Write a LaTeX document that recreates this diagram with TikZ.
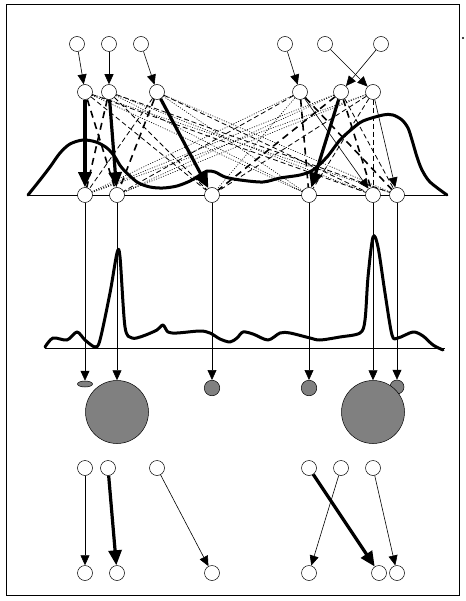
\documentclass[tikz,border=0pt]{standalone}
\usetikzlibrary{arrows.meta,shapes.geometric}
\begin{document}
\begin{tikzpicture}[x=1pt,y=-1pt,
 nd/.style={circle,draw,fill=white,minimum size=15pt,inner sep=0pt,line width=0.5pt},
 gr/.style={circle,draw,fill=gray,inner sep=0pt,line width=0.5pt},
 thinarr/.style={line width=0.6pt,-{Triangle[length=10pt,width=9pt]}},
 thickarr/.style={line width=3.2pt,-{Triangle[length=15pt,width=13pt]}},
 hdash/.style={line width=1.6pt,dash pattern=on 7pt off 5pt},
 tdash/.style={line width=0.8pt,dash pattern=on 5pt off 3pt},
 dotl/.style={line width=0.6pt,dash pattern=on 1pt off 1.5pt},
 curve/.style={line width=3pt,line join=round,line cap=round},
 base/.style={line width=0.8pt},
]
\useasboundingbox (0,0) rectangle (465,601);
\draw[line width=1pt] (6,5) rectangle (459,595);
\fill (463,38) circle (1.2pt);
% baselines
\draw[base] (28,195) -- (445,195);
\draw[base] (45,348) -- (445,348);
% density curve
\draw[curve] plot[smooth,tension=0.5] coordinates {(28,195) (40,180) (50,167) (60,153) (70,144) (83,140) (96,142) (107,148) (115,157) (122,168) (137,182) (150,187) (163,188) (177,186) (190,181) (200,175) (207,171) (215,172) (225,177) (240,180) (263,182) (280,178) (300,175) (313,170) (327,157) (340,140) (352,129) (363,121) (383,115) (393,115) (402,120) (408,128) (412,140) (417,157) (422,170) (430,182) (447,195)};
% spectrum
\draw[curve] plot[smooth,tension=0.5] coordinates {(45,347) (53,338) (67,340) (77,332) (85,340) (95,347) (100,340) (110,293) (117,253) (120,257) (125,327) (132,338) (143,336) (157,330) (163,325) (168,332) (177,333) (200,331) (210,333) (220,339) (230,342) (237,338) (243,332) (253,334) (268,340) (280,333) (290,333) (310,338) (320,340) (340,337) (360,333) (365,320) (368,277) (373,237) (378,247) (385,293) (392,335) (398,338) (413,332) (423,336) (433,345) (443,350)};
% nodes rows
\node[nd] (A1) at (77,44) {};
\node[nd] (A2) at (109,44) {};
\node[nd] (A3) at (141,44) {};
\node[nd] (A4) at (285,44) {};
\node[nd] (A5) at (325,44) {};
\node[nd] (A6) at (381,44) {};
\node[nd] (S1) at (85,92) {};
\node[nd] (S2) at (109,92) {};
\node[nd] (S3) at (157,92) {};
\node[nd] (S4) at (300,92) {};
\node[nd] (S5) at (341,92) {};
\node[nd] (S6) at (373,92) {};
\node[nd] (T1) at (85,195) {};
\node[nd] (T2) at (117,195) {};
\node[nd] (T3) at (212,195) {};
\node[nd] (T4) at (309,195) {};
\node[nd] (T5) at (373,195) {};
\node[nd] (T6) at (397,195) {};
% top arrows
\draw[thinarr] (A1) -- (S1);
\draw[thinarr] (A2) -- (S2);
\draw[thinarr] (A3) -- (S3);
\draw[thinarr] (A4) -- (S4);
\draw[thinarr] (A5) -- (S6);
\draw[thinarr] (A6) -- (S5);
% mesh
\draw[hdash] (S1) -- (T2);
\draw[tdash] (S1) -- (T3);
\draw[dotl] (S1) -- (T4);
\draw[tdash] (S1) -- (T5);
\draw[dotl] (S1) -- (T6);
\draw[hdash] (S2) -- (T1);
\draw[tdash] (S2) -- (T3);
\draw[dotl] (S2) -- (T4);
\draw[dotl] (S2) -- (T5);
\draw[tdash] (S2) -- (T6);
\draw[tdash] (S3) -- (T1);
\draw[hdash] (S3) -- (T2);
\draw[dotl] (S3) -- (T4);
\draw[tdash] (S3) -- (T5);
\draw[dotl] (S3) -- (T6);
\draw[dotl] (S4) -- (T1);
\draw[tdash] (S4) -- (T2);
\draw[dotl] (S4) -- (T3);
\draw[hdash] (S4) -- (T4);
\draw[hdash] (S4) -- (T6);
\draw[dotl] (S5) -- (T1);
\draw[dotl] (S5) -- (T2);
\draw[hdash] (S5) -- (T3);
\draw[hdash] (S5) -- (T5);
\draw[tdash] (S5) -- (T6);
\draw[dotl] (S6) -- (T1);
\draw[dotl] (S6) -- (T2);
\draw[tdash] (S6) -- (T3);
\draw[tdash] (S6) -- (T4);
\draw[tdash] (S6) -- (T5);
% main arrows
\draw[thickarr] (S1) -- (T1);
\draw[thickarr] (S2) -- (T2);
\draw[thickarr] (S3) -- (T3);
\draw[thickarr] (S5) -- (T4);
\draw[thinarr] (S4) -- (T5);
\draw[thinarr] (S6) -- (T6);
% gray blobs
\node[draw,fill=gray,ellipse,inner sep=0pt,minimum width=15pt,minimum height=6pt,line width=0.5pt] (G1) at (85,384) {};
\node[gr,minimum size=63pt] (G2) at (117,412) {};
\node[gr,minimum size=15.5pt] (G3) at (212,388) {};
\node[gr,minimum size=15.5pt] (G4) at (309,388) {};
\node[gr,minimum size=14pt] (G6) at (397,387) {};
\node[gr,minimum size=63pt] (G5) at (373,412) {};
\foreach \i in {1,...,6} {\draw[thinarr] (T\i) -- (G\i);}
% bottom
\node[nd] (U1) at (85,468) {};
\node[nd] (U2) at (108,468) {};
\node[nd] (U3) at (157,468) {};
\node[nd] (U4) at (309,468) {};
\node[nd] (U5) at (341,468) {};
\node[nd] (U6) at (373,468) {};
\node[nd] (V1) at (85,573) {};
\node[nd] (V2) at (117,573) {};
\node[nd] (V3) at (212,573) {};
\node[nd] (V4) at (309,573) {};
\node[nd] (V5) at (379,573) {};
\node[nd] (V6) at (397,573) {};
\draw[thinarr] (U1) -- (V1);
\draw[thickarr] (U2) -- (V2);
\draw[thinarr] (U3) -- (V3);
\draw[thinarr] (U5) -- (V4);
\draw[thickarr] (U4) -- (V5);
\draw[thinarr] (U6) -- (V6);
\end{tikzpicture}
\end{document}
